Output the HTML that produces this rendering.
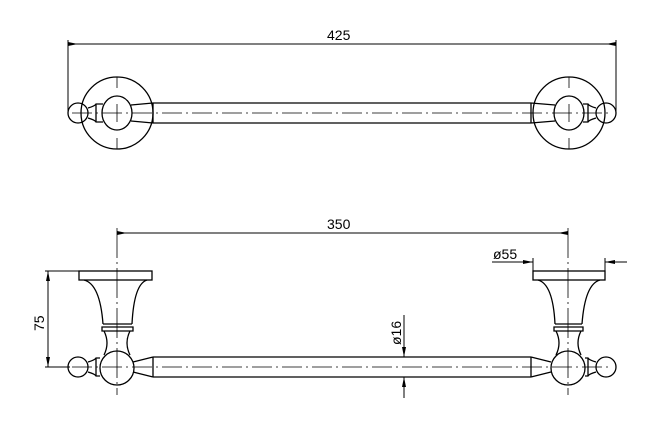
<!DOCTYPE html>
<html><head><style>body{margin:0;background:#fff}svg{display:block}text{font-family:"Liberation Sans",sans-serif;font-size:14px;fill:#000;stroke:none}</style></head>
<body>
<svg width="652" height="430" viewBox="0 0 652 430" xmlns="http://www.w3.org/2000/svg" fill="none" stroke="#000" stroke-width="1.3">
<!-- TOP VIEW -->
<line x1="68" y1="44" x2="616" y2="44" stroke-width="1"/>
<path d="M78,44 L68,42 L68,46z M606,44 L616,42 L616,46z" fill="#000" stroke="none"/>
<line x1="68" y1="40" x2="68" y2="113" stroke-width="1"/>
<line x1="616" y1="40" x2="616" y2="113" stroke-width="1"/>
<text x="327" y="40">425</text>
<!-- left rosette -->
<circle cx="117" cy="113" r="36"/>
<ellipse cx="117" cy="113" rx="15" ry="17"/>
<circle cx="78" cy="113" r="10"/>
<path d="M88,108 Q95,106 96,104 L103,104 M88,118 Q95,120 96,122 L103,122"/>
<line x1="96" y1="104" x2="96" y2="122"/>
<path d="M131,105 L153,103 M131,121 L153,123"/>
<!-- right rosette -->
<circle cx="569" cy="113" r="36"/>
<ellipse cx="569" cy="113" rx="15" ry="17"/>
<circle cx="606" cy="113" r="10"/>
<path d="M596,108 Q589,106 588,104 L583,104 M596,118 Q589,120 588,122 L583,122"/>
<line x1="588" y1="104" x2="588" y2="122"/>
<path d="M555,105 L531,103 M555,121 L531,123"/>
<!-- tube -->
<path d="M153,103 H531 M153,123 H531 M153,103 V123 M531,103 V123"/>
<g stroke-width="0.8">
<line x1="117" y1="77" x2="117" y2="88"/><line x1="117" y1="138" x2="117" y2="149"/><line x1="117" y1="104" x2="117" y2="122"/>
<line x1="569" y1="77" x2="569" y2="88"/><line x1="569" y1="138" x2="569" y2="149"/><line x1="569" y1="104" x2="569" y2="122"/>
<line x1="72" y1="113" x2="612" y2="113" stroke-dasharray="20,4,2,4"/>
</g>
<!-- BOTTOM VIEW -->
<line x1="117" y1="233" x2="568" y2="233" stroke-width="1"/>
<path d="M127,233 L117,231 L117,235z M558,233 L568,231 L568,235z" fill="#000" stroke="none"/>
<text x="327" y="229">350</text>
<g stroke-width="0.8">
<line x1="117" y1="228" x2="117" y2="395" stroke-dasharray="30,4,2,4"/>
<line x1="568" y1="228" x2="568" y2="395" stroke-dasharray="30,4,2,4"/>
<line x1="72" y1="367" x2="612" y2="367" stroke-dasharray="20,4,2,4"/>
</g>
<!-- left bracket -->
<rect x="79" y="271" width="73" height="9"/>
<path d="M84,280 Q100,284 103,324 M147,280 Q134,284 132,324"/>
<path d="M103,324 H132 M102,327 H133 V331 H102z M104,331 Q110,343 104,355 M130,331 Q124,343 130,355"/>
<circle cx="117" cy="368" r="17"/>
<circle cx="78" cy="367" r="10"/>
<path d="M88,362 Q95,360 96,358 L100,358 M88,372 Q95,374 96,376 L100,376"/>
<line x1="96" y1="358" x2="96" y2="376"/>
<path d="M133,362 L153,357 M133,372 L153,377"/>
<!-- right bracket -->
<rect x="533" y="271" width="72" height="9"/>
<path d="M538,280 Q553,284 555,324 M600,280 Q585,284 582,324"/>
<path d="M555,324 H582 M554,327 H583 V331 H554z M556,331 Q562,343 556,355 M581,331 Q575,343 581,355"/>
<circle cx="568" cy="368" r="17"/>
<circle cx="606" cy="367" r="10"/>
<path d="M596,362 Q589,360 588,358 L585,358 M596,372 Q589,374 588,376 L585,376"/>
<line x1="588" y1="358" x2="588" y2="376"/>
<path d="M551,362 L531,357 M551,372 L531,377"/>
<path d="M153,357 H531 M153,377 H531 M153,357 V377 M531,357 V377"/>
<g stroke-width="1">
<line x1="45" y1="271" x2="79" y2="271"/><line x1="45" y1="367" x2="70" y2="367"/>
<line x1="48" y1="271" x2="48" y2="367"/>
<line x1="492" y1="262" x2="533" y2="262"/><line x1="605" y1="262" x2="627" y2="262"/>
<line x1="533" y1="258" x2="533" y2="271"/><line x1="605" y1="258" x2="605" y2="271"/>
<line x1="404" y1="315" x2="404" y2="357"/><line x1="404" y1="377" x2="404" y2="398"/>
</g>
<path d="M48,271 L46,281 L50,281z M48,367 L46,357 L50,357z M533,262 L523,260 L523,264z M605,262 L615,260 L615,264z M404,357 L402,347 L406,347z M404,377 L402,387 L406,387z" fill="#000" stroke="none"/>
<text x="493" y="259">ø55</text>
<text transform="translate(44,331) rotate(-90)">75</text>
<text transform="translate(401,345) rotate(-90)">ø16</text>
</svg>
</body></html>
